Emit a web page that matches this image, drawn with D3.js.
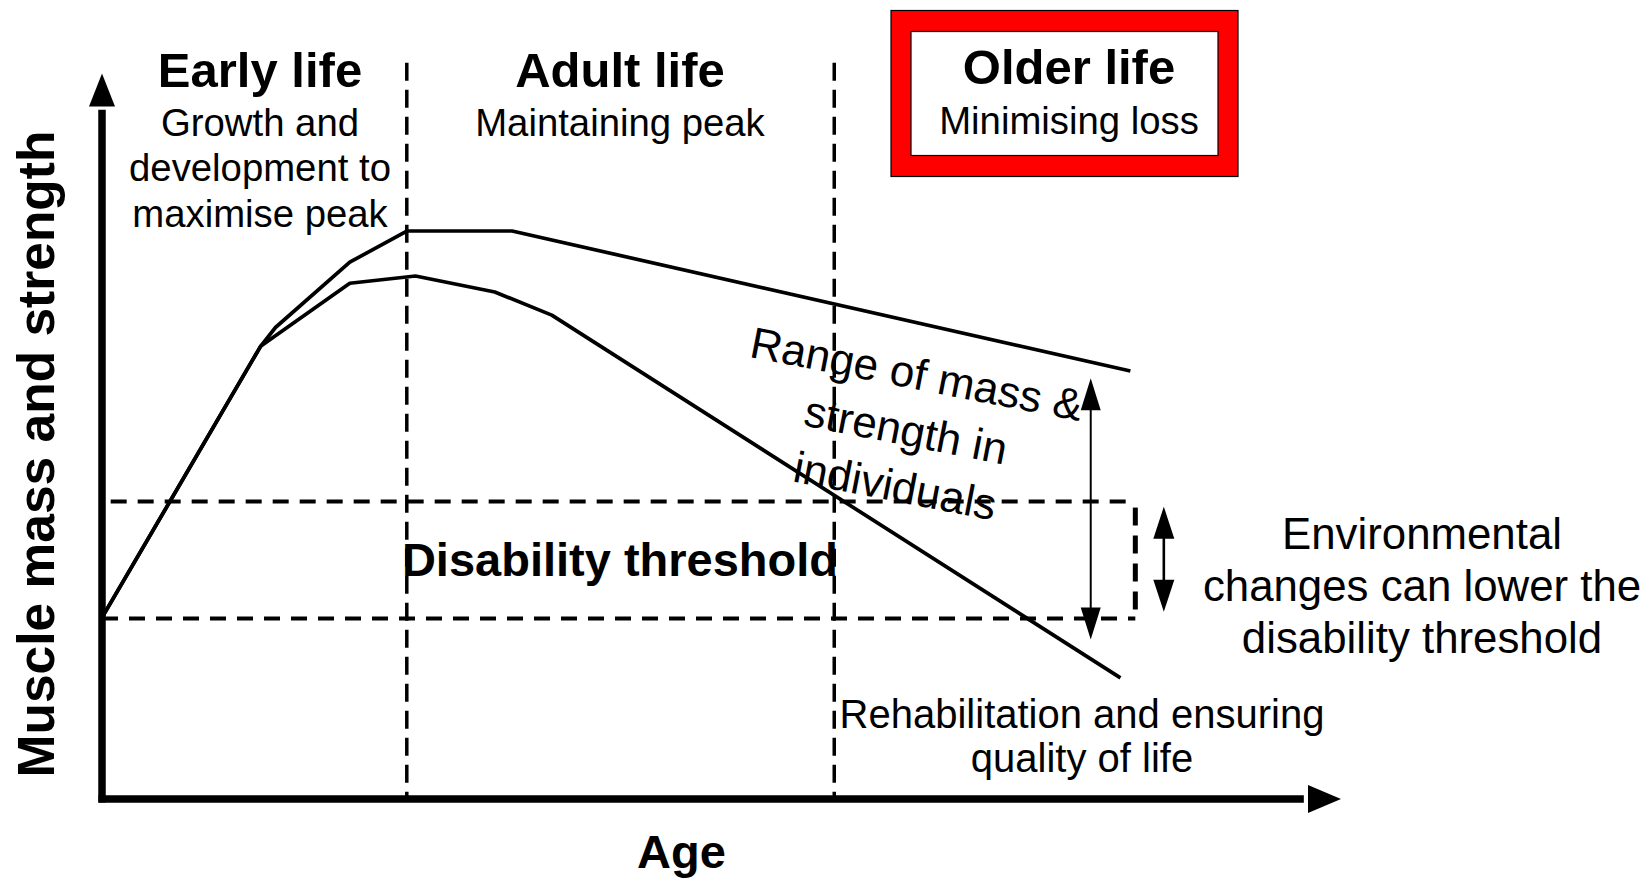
<!DOCTYPE html>
<html>
<head>
<meta charset="utf-8">
<script src="https://cdn.jsdelivr.net/npm/d3@7"></script>
<style>
  html, body { margin: 0; padding: 0; background: #fff; }
  svg text { font-family: "Liberation Sans", Arial, sans-serif; fill: #000; }
</style>
</head>
<body>
<svg id="svg_life"></svg>
<script>
// life phases (x positions in age units, 0..100)
let phaseNames = ["Early life", "Adult life", "Older life"];
let phaseSubtitles = [["Growth and", "development to", "maximise peak"], ["Maintaining peak"], ["Minimising loss"]];
let phaseBounds = [24.6, 59.1];

// muscle curves: [age, muscle] pairs
let upperAge = [0, 12.8, 14, 20, 24.6, 33.1, 83];
let upperMuscle = [25, 62.4, 65, 74, 78.3, 78.3, 59];
let lowerAge = [0, 12.8, 20, 25.3, 31.7, 36.3, 82.2];
let lowerMuscle = [25, 62.4, 71.1, 72.1, 69.9, 66.7, 16.7];

// disability thresholds
let thresholdLevels = [41, 24.9];
let thresholdStart = [0.7, 0];
let thresholdEnd = 83.4;

// range arrow & environmental arrow
let rangeArrow = { age: 79.8, from: 22, to: 58 };
let envArrow = { age: 85.7, from: 25.8, to: 40.3 };

let width = 1649;
let height = 880;

let svg = d3.select("#svg_life")
    .attr("width", width)
    .attr("height", height);

// scales
let x = d3.scaleLinear().domain([0, 100]).range([102, 1341]);
let y = d3.scaleLinear().domain([0, 100]).range([799, 73.6]);

let line = d3.line()
    .x(d => x(d[0]))
    .y(d => y(d[1]));

// vertical dashed phase lines
svg.selectAll(".phase")
    .data(phaseBounds)
    .enter().append("line")
        .attr("x1", d => x(d))
        .attr("x2", d => x(d))
        .attr("y1", y(101.5))
        .attr("y2", y(0))
        .attr("stroke", "#000")
        .attr("stroke-width", 3.5)
        .attr("stroke-dasharray", "18,9");

// horizontal dashed threshold lines
svg.selectAll(".threshold")
    .data(thresholdLevels)
    .enter().append("line")
        .attr("x1", (d, i) => x(thresholdStart[i]))
        .attr("x2", x(thresholdEnd))
        .attr("y1", d => y(d))
        .attr("y2", d => y(d))
        .attr("stroke", "#000")
        .attr("stroke-width", 4)
        .attr("stroke-dasharray", "16,11");

// short vertical dashed line joining thresholds
svg.append("line")
    .attr("x1", x(thresholdEnd))
    .attr("x2", x(thresholdEnd))
    .attr("y1", y(thresholdLevels[0]) + 6)
    .attr("y2", y(thresholdLevels[1]))
    .attr("stroke", "#000")
    .attr("stroke-width", 5)
    .attr("stroke-dasharray", "18,10");

// curves
let upper = upperAge.map((a, i) => [a, upperMuscle[i]]);
let lower = lowerAge.map((a, i) => [a, lowerMuscle[i]]);
svg.selectAll(".curve")
    .data([upper, lower])
    .enter().append("path")
        .attr("d", line)
        .attr("fill", "none")
        .attr("stroke", "#000")
        .attr("stroke-width", 3.7)
        .attr("stroke-linejoin", "round");

// axes with arrow heads
svg.append("line")
    .attr("x1", x(0)).attr("x2", x(0))
    .attr("y1", y(0) + 3.5).attr("y2", y(95))
    .attr("stroke", "#000").attr("stroke-width", 7.5);
svg.append("path")
    .attr("d", `M${x(0)},${y(100)} L${x(0) + 13},${y(100) + 33} L${x(0) - 13},${y(100) + 33} Z`)
    .attr("fill", "#000");
svg.append("line")
    .attr("x1", x(0) - 3.5).attr("x2", x(97))
    .attr("y1", y(0)).attr("y2", y(0))
    .attr("stroke", "#000").attr("stroke-width", 7.5);
svg.append("path")
    .attr("d", `M${x(100)},${y(0)} L${x(100) - 33},${y(0) - 14} L${x(100) - 33},${y(0) + 14} Z`)
    .attr("fill", "#000");

// double arrow helper
function doubleArrow(a, thick, headW, headL) {
    let ax = x(a.age), y1 = y(a.to), y2 = y(a.from);
    svg.append("line")
        .attr("x1", ax).attr("x2", ax)
        .attr("y1", y1 + headL - 2).attr("y2", y2 - headL + 2)
        .attr("stroke", "#000").attr("stroke-width", thick);
    svg.append("path")
        .attr("d", `M${ax},${y1} L${ax + headW},${y1 + headL} L${ax - headW},${y1 + headL} Z`)
        .attr("fill", "#000");
    svg.append("path")
        .attr("d", `M${ax},${y2} L${ax + headW},${y2 - headL} L${ax - headW},${y2 - headL} Z`)
        .attr("fill", "#000");
}
doubleArrow(rangeArrow, 2, 10, 32);
doubleArrow(envArrow, 2.6, 10.5, 32);

// red box round "Older life"
svg.append("rect")
    .attr("x", 891).attr("y", 10.5)
    .attr("width", 347).attr("height", 166)
    .attr("fill", "#ff0000").attr("stroke", "#000").attr("stroke-width", 1.2);
svg.append("rect")
    .attr("x", 911).attr("y", 31.5)
    .attr("width", 307).attr("height", 124)
    .attr("fill", "#fff").attr("stroke", "#000").attr("stroke-width", 1.2);

// text helper
function label(txt, cx, by, size, bold) {
    return svg.append("text")
        .attr("x", cx).attr("y", by)
        .attr("text-anchor", "middle")
        .attr("font-size", size)
        .attr("font-weight", bold ? "bold" : "normal")
        .text(txt);
}

// phase titles
let titleX = [260, 620, 1069];
phaseNames.forEach((n, i) => label(n, titleX[i], i == 2 ? 84 : 87, 49, true));
phaseSubtitles.forEach((lines, i) => {
    lines.forEach((t, j) => label(t, titleX[i], (i == 2 ? 133.5 : 135.5) + j * 45.8, 38.3, false));
});

label("Disability threshold", 620, 576, 47, true);

["Environmental", "changes can lower the", "disability threshold"]
    .forEach((t, j) => label(t, 1422, 549 + j * 52, 43.8, false));

["Rehabilitation and ensuring", "quality of life"]
    .forEach((t, j) => label(t, 1082, 728 + j * 44, 40, false));

// rotated range note
let rangeText = svg.append("g")
    .attr("transform", "translate(914,389) rotate(11)");
["Range of mass &", "strength in", "individuals"].forEach((t, j) => {
    rangeText.append("text")
        .attr("x", 0).attr("y", j * 57)
        .attr("text-anchor", "middle")
        .attr("font-size", 44)
        .text(t);
});

// axis titles
label("Age", 681.5, 868, 47, true);
svg.append("text")
    .attr("transform", "translate(54,454) rotate(-90)")
    .attr("text-anchor", "middle")
    .attr("font-size", 51.5)
    .attr("font-weight", "bold")
    .text("Muscle mass and strength");
</script>
</body>
</html>
